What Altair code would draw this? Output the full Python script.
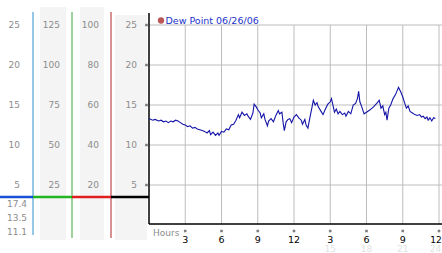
import altair as alt
import pandas as pd

# ---------------- data ----------------
hours = [0.0, 0.3, 0.5, 0.8, 1.0, 1.2, 1.4, 1.6, 1.8, 2.0, 2.2, 2.4, 2.6, 2.8, 3.0,
         3.2, 3.4, 3.6, 3.8, 4.0, 4.2, 4.4, 4.6, 4.8, 5.0, 5.1, 5.3, 5.5, 5.7, 5.8,
         6.0, 6.2, 6.4, 6.6, 6.8, 7.0, 7.2, 7.4, 7.5, 7.7, 7.9, 8.1, 8.2, 8.4, 8.6,
         8.7, 8.9, 9.0, 9.2, 9.3, 9.5, 9.6, 9.8, 9.9, 10.1, 10.3, 10.5, 10.7, 10.8, 11.0,
         11.1, 11.2, 11.35, 11.5, 11.65, 11.8, 12.0, 12.2, 12.4, 12.6, 12.7, 12.9, 13.0, 13.15, 13.3,
         13.5, 13.6, 13.75, 13.9, 14.0, 14.2, 14.4, 14.6, 14.8, 15.0, 15.1, 15.25, 15.35, 15.5, 15.65,
         15.8, 16.0, 16.2, 16.3, 16.5, 16.7, 16.9, 17.1, 17.25, 17.35, 17.45, 17.6, 17.8, 18.0, 18.3,
         18.6, 18.9, 19.05, 19.2, 19.35, 19.5, 19.6, 19.7, 19.85, 20.0, 20.2, 20.4, 20.65, 20.85, 21.0,
         21.15, 21.3, 21.45, 21.6, 21.8, 22.0, 22.2, 22.4, 22.55, 22.7, 22.85, 23.0, 23.1, 23.25, 23.4,
         23.55, 23.7]
dew = [13.3, 13.1, 13.2, 13.0, 13.1, 12.9, 13.0, 12.8, 13.0, 12.9, 13.1, 13.0, 12.8, 12.6, 12.5,
       12.3, 12.4, 12.1, 12.2, 12.0, 11.9, 11.8, 11.7, 11.5, 11.8, 11.3, 11.6, 11.2, 11.5, 11.2,
       11.7, 11.6, 12.0, 11.9, 12.5, 12.6, 13.1, 13.8, 13.4, 14.1, 13.7, 13.9, 13.6, 13.2, 14.0,
       15.1, 14.7, 14.4, 14.0, 13.4, 13.9, 13.2, 12.4, 13.0, 13.3, 12.9, 13.7, 14.3, 13.9, 14.1,
       12.8, 11.8, 12.9, 13.2, 13.3, 12.8, 13.5, 13.8, 13.4, 13.1, 12.6, 13.2, 12.5, 12.1, 13.3,
       14.8, 15.6, 15.0, 15.3, 14.8, 14.3, 13.8, 14.5, 15.1, 15.4, 15.8, 14.8, 14.1, 14.5, 13.9,
       14.2, 13.8, 14.0, 13.6, 14.2, 13.9, 15.0, 15.2, 15.8, 16.7, 15.4, 14.8, 13.9, 14.1, 14.4,
       14.8, 15.3, 15.6, 14.6, 14.9, 13.8, 14.1, 13.1, 14.6, 15.0, 15.8, 16.3, 17.2, 16.6, 16.0,
       15.3, 14.6, 14.9, 14.2, 14.0, 13.8, 13.7, 13.8, 13.5, 13.6, 13.3, 13.5, 13.1, 13.4, 13.0,
       13.4, 13.3]

left_ticks = [25, 20, 15, 10, 5]
col1_labels = ["25", "20", "15", "10", "5"]
col2_labels = ["125", "100", "75", "50", "25"]
col3_labels = ["100", "80", "60", "40", "20"]
col4_labels = ["25", "20", "15", "10", "5"]
readouts = ["17.4", "13.5", "11.1"]
hour_ticks = [3, 6, 9, 12, 15, 18, 21, 24]
hour_labels = ["3", "6", "9", "12", "3", "6", "9", "12"]
faint_ticks = [15, 18, 21, 24]
faint_labels = ["15", "18", "21", "24"]
title_text = "Dew Point 06/26/06"

# ---------------- scales ----------------
W, H = 442, 253
X0 = 149            # pixel of hour 0
PXH = 290 / 24      # pixels per hour
Y0 = 225            # pixel of dew point 0
PXV = 8             # pixels per degree
XS = alt.Scale(domain=[-X0 / PXH, (W - X0) / PXH], nice=False, zero=False)
YS = alt.Scale(domain=[-(H - Y0) / PXV, Y0 / PXV], nice=False, zero=False)
FONT = "DejaVu Sans"

one = pd.DataFrame({"a": [0]})
line_df = pd.DataFrame({"h": hours, "v": dew})
ytick_df = pd.DataFrame({"v": left_ticks, "c1": col1_labels, "c2": col2_labels,
                         "c3": col3_labels, "c4": col4_labels,
                         "h0": [0] * len(left_ticks)})
xtick_df = pd.DataFrame({"h": hour_ticks, "lab": hour_labels,
                         "vtop": [max(left_ticks)] * len(hour_ticks)})
faint_df = pd.DataFrame({"h": faint_ticks, "lab": faint_labels})
origin_df = pd.DataFrame({"h0": [0]})
LAST = max(hour_ticks)


def X(field):
    return alt.X(field, scale=XS, axis=None)


def Y(field):
    return alt.Y(field, scale=YS, axis=None)


layers = []

# grey bands of the left panel
for x1, x2, y1, y2 in [(40, 66, 7, 240), (80, 104, 7, 240), (115, 147, 15, 240)]:
    layers.append(alt.Chart(one).mark_rect(color="#f4f4f4").encode(
        x=alt.value(x1), x2=alt.value(x2), y=alt.value(y1), y2=alt.value(y2)))

# coloured vertical lines of the left panel
for xp, y1, y2, col in [(33, 12, 235, "#2a8fd0"), (72, 12, 238, "#3aa83a"), (111, 12, 238, "#b02424")]:
    layers.append(alt.Chart(one).mark_rule(color=col, strokeWidth=1).encode(
        x=alt.value(xp), y=alt.value(y1), y2=alt.value(y2)))

# coloured horizontal segments
for x1, x2, col in [(0, 33, "#1a4fd8"), (33, 72, "#22b522"), (72, 111, "#e02020"), (111, 149, "#000000")]:
    layers.append(alt.Chart(one).mark_rule(color=col, strokeWidth=2.5).encode(
        x=alt.value(x1), x2=alt.value(x2), y=alt.value(197)))

# grid lines
layers.append(alt.Chart(ytick_df).mark_rule(color="#bdbdbd", strokeWidth=1).encode(
    x=X("h0:Q"), x2=alt.value(W), y=Y("v:Q")))
layers.append(alt.Chart(xtick_df).mark_rule(color="#bdbdbd", strokeWidth=1).encode(
    x=X("h:Q"), y=Y("vtop:Q"), y2=alt.value(224)))

# axis lines
layers.append(alt.Chart(origin_df).mark_rule(color="#000000", strokeWidth=1.5).encode(
    x=X("h0:Q"), y=alt.value(13), y2=alt.value(224)))
layers.append(alt.Chart(origin_df).mark_rule(color="#000000", strokeWidth=1.5).encode(
    x=X("h0:Q"), x2=alt.value(W), y=alt.value(224)))

# left axis labels (four columns)
for field, xr in [("c1", 20), ("c2", 60), ("c3", 99), ("c4", 137)]:
    layers.append(alt.Chart(ytick_df).mark_text(
        align="right", baseline="middle", font=FONT, fontSize=9, color="#8c8c8c").encode(
        x=alt.value(xr), y=Y("v:Q"), text=alt.Text(f"{field}:N")))

# left tick glyphs
layers.append(alt.Chart(ytick_df).mark_point(
    shape="cross", angle=45, size=10, filled=True, color="#444444").encode(
    x=alt.value(146.5), y=Y("v:Q")))

# readouts under the coloured line
for i, r in enumerate(readouts):
    layers.append(alt.Chart(one).mark_text(
        align="right", baseline="middle", font=FONT, fontSize=9, color="#8c8c8c").encode(
        x=alt.value(27), y=alt.value(204.3 + 14 * i), text=alt.value(r)))

# x tick glyphs and labels
layers.append(alt.Chart(xtick_df).mark_point(
    shape="cross", angle=45, size=10, filled=True, color="#444444").encode(
    x=X("h:Q"), y=alt.value(231)))
layers.append(alt.Chart(xtick_df).transform_filter(alt.datum.h < LAST).mark_text(
    align="center", baseline="middle", font=FONT, fontSize=9.5, color="#000000").encode(
    x=X("h:Q"), y=alt.value(239.5), text=alt.Text("lab:N")))
layers.append(alt.Chart(xtick_df).transform_filter(alt.datum.h == LAST).mark_text(
    align="center", baseline="middle", font=FONT, fontSize=9, color="#000000", dx=-3).encode(
    x=X("h:Q"), y=alt.value(239.5), text=alt.Text("lab:N")))
layers.append(alt.Chart(faint_df).transform_filter(alt.datum.h < LAST).mark_text(
    align="center", baseline="middle", font=FONT, fontSize=9, color="#e2e2e2").encode(
    x=X("h:Q"), y=alt.value(248.5), text=alt.Text("lab:N")))
layers.append(alt.Chart(faint_df).transform_filter(alt.datum.h == LAST).mark_text(
    align="center", baseline="middle", font=FONT, fontSize=9, color="#e2e2e2", dx=-3.5).encode(
    x=X("h:Q"), y=alt.value(248.5), text=alt.Text("lab:N")))
layers.append(alt.Chart(one).mark_text(
    align="left", baseline="middle", font=FONT, fontSize=9, color="#8c8c8c").encode(
    x=alt.value(153), y=alt.value(232.5), text=alt.value("Hours")))

# the dew point line
layers.append(alt.Chart(line_df).mark_line(color="#1414a8", strokeWidth=1.1).encode(
    x=X("h:Q"), y=Y("v:Q")))

# legend / title
layers.append(alt.Chart(one).mark_point(filled=True, size=40, color="#a01010").encode(
    x=alt.value(161), y=alt.value(20.5)))
layers.append(alt.Chart(one).mark_text(
    align="left", baseline="middle", font=FONT, fontSize=9.5, color="#2233cc").encode(
    x=alt.value(165.5), y=alt.value(20.5), text=alt.value(title_text)))

chart = alt.layer(*layers).properties(
    width=W, height=H, padding=0,
    autosize=alt.AutoSizeParams(type="none"),
    background="white",
).configure_view(stroke=None)

chart.save("out.html", embed_options={"renderer": "svg", "actions": False})
